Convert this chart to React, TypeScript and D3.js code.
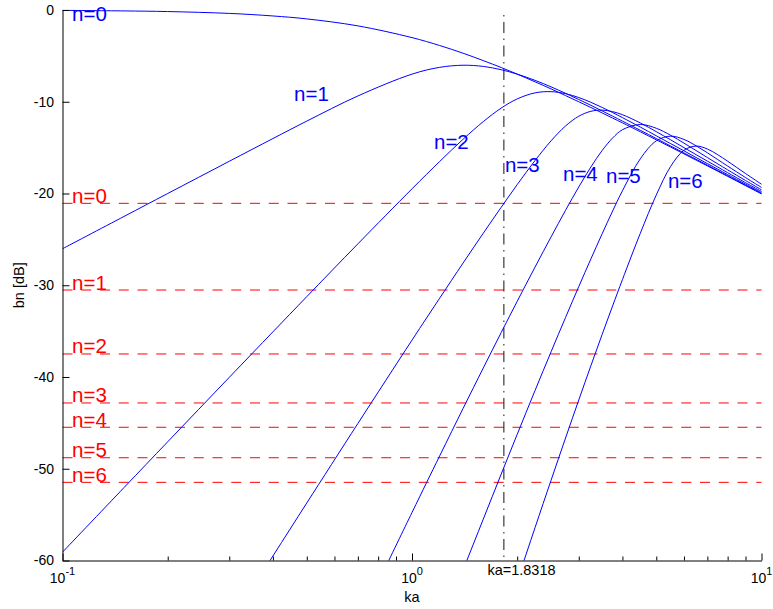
import React, { useEffect, useRef } from "react";
import * as d3 from "d3";

// ka grid shared by all curves
const ka = [0.1, 0.15, 0.2, 0.3, 0.4, 0.5, 0.7, 1, 1.2, 1.4, 1.6, 1.8, 2, 2.25, 2.5, 2.75, 3, 3.25, 3.5, 3.75, 4, 4.5, 5, 5.5, 6, 6.5, 7, 7.5, 8, 9, 10];

// |bn| in dB (null = below the plot)
const b0 = [-0.04, -0.10, -0.17, -0.37, -0.65, -0.97, -1.73, -3.01, -3.87, -4.71, -5.52, -6.27, -6.99, -7.83, -8.60, -9.33, -10.00, -10.63, -11.22, -11.78, -12.30, -13.27, -14.15, -14.95, -15.68, -16.36, -16.99, -17.58, -18.13, -19.14, -20.04];
const b1 = [-26.02, -22.50, -20.00, -16.49, -14.01, -12.11, -9.37, -6.99, -6.25, -6.02, -6.15, -6.51, -6.99, -7.67, -8.38, -9.08, -9.75, -10.39, -11.00, -11.57, -12.11, -13.11, -14.01, -14.83, -15.58, -16.27, -16.91, -17.51, -18.07, -19.09, -20.00];
const b2 = [-59.09, -52.05, -47.06, -40.04, -35.08, -31.24, -25.49, -19.49, -16.51, -14.09, -12.16, -10.69, -9.69, -9.03, -8.90, -9.12, -9.54, -10.06, -10.62, -11.18, -11.73, -12.76, -13.71, -14.57, -15.35, -16.08, -16.74, -17.36, -17.94, -18.98, -19.92];
const b3 = [null, null, null, -66.98, -59.51, -53.73, -45.07, -35.98, -31.41, -27.58, -24.32, -21.50, -19.03, -16.40, -14.26, -12.64, -11.58, -11.04, -10.91, -11.08, -11.41, -12.31, -13.26, -14.16, -15.00, -15.77, -16.47, -17.12, -17.73, -18.82, -19.78];
const b4 = [null, null, null, null, null, null, -66.98, -54.77, -48.60, -43.43, -39.01, -35.15, -31.75, -28.01, -24.73, -21.83, -19.29, -17.11, -15.31, -13.95, -13.05, -12.48, -12.89, -13.66, -14.51, -15.32, -16.08, -16.78, -17.42, -18.58, -19.60];
const b5 = [null, null, null, null, null, null, null, null, -67.62, -61.05, -55.48, -50.58, -46.25, -41.46, -37.25, -33.51, -30.15, -27.13, -24.39, -21.91, -19.71, -16.22, -14.26, -13.75, -14.11, -14.80, -15.56, -16.31, -17.01, -18.26, -19.34];
const b6 = [null, null, null, null, null, null, null, null, null, null, null, -67.52, -62.24, -56.40, -51.25, -46.65, -42.51, -38.77, -35.36, -32.25, -29.39, -24.34, -20.16, -17.03, -15.29, -14.83, -15.15, -15.78, -16.48, -17.82, -18.99];
const curves = [b0, b1, b2, b3, b4, b5, b6];
const curveNames = ["n=0", "n=1", "n=2", "n=3", "n=4", "n=5", "n=6"];

// where the blue curve labels sit (ka, dB)
const curveLabelKa = [0.1065, 0.4597, 1.156, 1.845, 2.704, 3.59, 5.4];
const curveLabelDb = [-1.25, -9.89, -15.15, -17.66, -18.64, -18.86, -19.4];

// red dashed levels
const levelDb = [-21.07, -30.52, -37.49, -42.83, -45.48, -48.8, -51.48];
const levelNames = ["n=0", "n=1", "n=2", "n=3", "n=4", "n=5", "n=6"];

const kaMark = 1.8318;
const yTicks = [-60, -50, -40, -30, -20, -10, 0];
const xMajor = [0.1, 1, 10];
const xMajorExp = ["-1", "0", "1"];
const xMinor = [0.2, 0.3, 0.4, 0.5, 0.6, 0.7, 0.8, 0.9, 2, 3, 4, 5, 6, 7, 8, 9];

const W = 773;
const H = 609;
const FONT = "'Liberation Sans', Arial, Helvetica, sans-serif";

export default function App() {
  const svgRef = useRef<SVGSVGElement>(null);

  useEffect(() => {
    const svg = d3.select(svgRef.current);
    svg.selectAll("*").remove();

    const x = d3.scaleLog().domain([0.1, 10]).range([62.5, 761.5]);
    const y = d3.scaleLinear().domain([-60, 0]).range([560.5, 10]);

    svg.append("defs").append("clipPath").attr("id", "plotclip")
      .append("rect")
      .attr("x", x(0.1)).attr("y", y(0) - 1.5)
      .attr("width", x(10) - x(0.1) + 1).attr("height", y(-60) - y(0) + 1.5);

    // dashed reference levels
    const lv = svg.append("g");
    levelDb.forEach((d, i) => {
      lv.append("line")
        .attr("x1", x(0.1)).attr("x2", x(10))
        .attr("y1", y(d)).attr("y2", y(d))
        .attr("stroke", "#ff0000").attr("stroke-width", 1)
        .attr("stroke-dasharray", "10,8.75");
      lv.append("text")
        .attr("x", x(curveLabelKa[0])).attr("y", y(d) - 0.5)
        .attr("fill", "#ff0000").attr("font-size", 20.5).attr("font-family", FONT)
        .text(levelNames[i]);
    });

    // curves
    const line = d3.line<[number, number | null]>()
      .defined((d) => d[1] != null)
      .x((d) => x(d[0]))
      .y((d) => y(d[1] as number))
      .curve(d3.curveCatmullRom.alpha(0.5));

    const cg = svg.append("g").attr("clip-path", "url(#plotclip)");
    curves.forEach((c) => {
      cg.append("path")
        .attr("d", line(ka.map((k, i) => [k, c[i]] as [number, number | null])))
        .attr("fill", "none").attr("stroke", "#0000ff").attr("stroke-width", 1);
    });

    // ka marker line
    svg.append("line")
      .attr("x1", x(kaMark)).attr("x2", x(kaMark))
      .attr("y1", y(0)).attr("y2", y(-60))
      .attr("stroke", "#111").attr("stroke-width", 1)
      .attr("stroke-dasharray", "1.5,5.5,11,5.5").attr("stroke-dashoffset", -5);
    svg.append("text")
      .attr("x", x(kaMark) - 16.5).attr("y", 575)
      .attr("font-size", 14.5).attr("font-family", FONT).attr("fill", "#000")
      .text("ka=" + kaMark);

    // curve labels
    curveNames.forEach((name, i) => {
      svg.append("text")
        .attr("x", x(curveLabelKa[i])).attr("y", y(curveLabelDb[i]))
        .attr("fill", "#0000ff").attr("font-size", 20.5).attr("font-family", FONT)
        .text(name);
    });

    // y axis, ticks pointing inwards
    svg.append("g")
      .attr("transform", `translate(${x(0.1)},0)`)
      .call(d3.axisLeft(y).tickValues(yTicks).tickSizeInner(-7).tickSizeOuter(0).tickPadding(8.5).tickFormat((d) => String(d)))
      .call((g) => g.selectAll("text").attr("font-size", 14).attr("font-family", FONT).attr("fill", "#000"))
      .call((g) => g.selectAll("line,path").attr("stroke", "#000"));

    // x axis major
    const xa = svg.append("g")
      .attr("transform", `translate(0,${y(-60)})`)
      .call(d3.axisBottom(x).tickValues(xMajor).tickSizeInner(-7).tickSizeOuter(0).tickFormat(() => ""))
      .call((g) => g.selectAll("line,path").attr("stroke", "#000"));
    xa.selectAll("text").remove();

    svg.append("g")
      .attr("transform", `translate(0,${y(-60)})`)
      .call(d3.axisBottom(x).tickValues(xMinor).tickSizeInner(-4).tickSizeOuter(0).tickFormat(() => ""))
      .call((g) => g.select(".domain").remove())
      .call((g) => g.selectAll("line").attr("stroke", "#000"))
      .call((g) => g.selectAll("text").remove());

    xMajor.forEach((v, i) => {
      const t = svg.append("text")
        .attr("x", x(v)).attr("y", 583)
        .attr("text-anchor", "middle").attr("font-family", FONT).attr("fill", "#000");
      t.append("tspan").attr("font-size", 14).text("10");
      t.append("tspan").attr("font-size", 11).attr("dy", -8).text(xMajorExp[i]);
    });

    // axis titles
    svg.append("text")
      .attr("x", x(1)).attr("y", 602)
      .attr("text-anchor", "middle").attr("font-size", 14.5).attr("font-family", FONT).attr("fill", "#000")
      .text("ka");
    svg.append("text")
      .attr("transform", `translate(23.5,${y(-30)}) rotate(-90)`)
      .attr("text-anchor", "middle").attr("font-size", 14.5).attr("font-family", FONT).attr("fill", "#000")
      .text("bn [dB]");
  }, []);

  return (
    <div style={{ position: "absolute", left: 0, top: 0, width: W, height: H, background: "#fff" }}>
      <svg ref={svgRef} width={W} height={H} style={{ display: "block" }} />
    </div>
  );
}
